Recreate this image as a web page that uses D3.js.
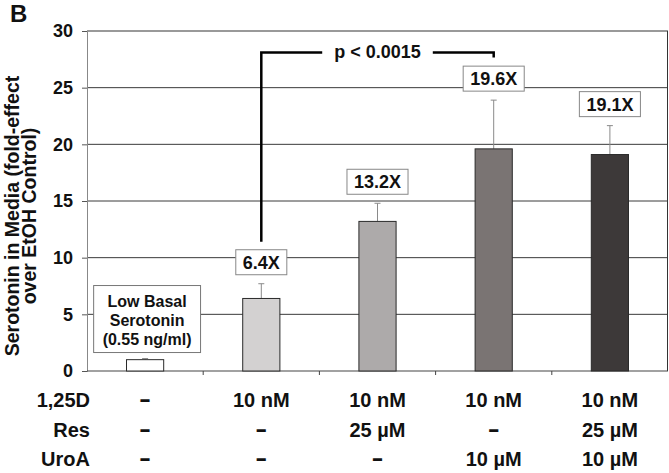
<!DOCTYPE html>
<html>
<head>
<meta charset="utf-8">
<script src="https://cdn.jsdelivr.net/npm/d3@7"></script>
<style>
  html, body { margin: 0; padding: 0; background: #fff; }
  svg text { font-family: "Liberation Sans", Arial, Helvetica, sans-serif; font-weight: bold; fill: #111; }
</style>
</head>
<body>
<svg id="chart" width="669" height="473"></svg>
<script>
// ---- data ----
const categories = ["Control", "1,25D", "1,25D+Res", "1,25D+UroA", "1,25D+Res+UroA"];
const values = [1.0, 6.4, 13.2, 19.6, 19.1];
const errUpper = [1.1, 7.7, 14.8, 23.9, 21.65];
const foldLabels = ["", "6.4X", "13.2X", "19.6X", "19.1X"];
const barColors = ["#ffffff", "#d3d1d1", "#adaaaa", "#7a7473", "#3d3939"];
const yTicks = [0, 5, 10, 15, 20, 25, 30];
const rowLabels = ["1,25D", "Res", "UroA"];
const row125D = ["-", "10 nM", "10 nM", "10 nM", "10 nM"];
const rowRes = ["-", "-", "25 \u00B5M", "-", "25 \u00B5M"];
const rowUroA = ["-", "-", "-", "10 \u00B5M", "10 \u00B5M"];
const basalLines = ["Low Basal", "Serotonin", "(0.55 ng/ml)"];
const pLabel = "p < 0.0015";
const yTitle = ["Serotonin in Media (fold-effect", "over  EtOH Control)"];

(function () {
// ---- layout ----
const plotL = 87, plotR = 668, plotT = 31, plotB = 371;
const svg = d3.select("#chart");

const x = d3.scaleBand().domain(categories).range([plotL, plotR]).padding(0);
const y = d3.scaleLinear().domain([0, 30]).range([plotB, plotT]);
const barW = x.bandwidth() * 0.32;
const cx = c => x(c) + x.bandwidth() / 2;

// gridlines
svg.append("g").selectAll("line").data(yTicks.filter(t => t > 0 && t < 30)).join("line")
  .attr("x1", plotL).attr("x2", plotR)
  .attr("y1", d => y(d)).attr("y2", d => y(d))
  .attr("stroke", "#3a3a3a").attr("stroke-width", 1);

// frame top / right
svg.append("line").attr("x1", plotL).attr("x2", plotR).attr("y1", y(30)).attr("y2", y(30))
  .attr("stroke", "#777").attr("stroke-width", 1.6);
svg.append("line").attr("x1", plotR - 0.5).attr("x2", plotR - 0.5).attr("y1", y(30)).attr("y2", y(0))
  .attr("stroke", "#333").attr("stroke-width", 1);

// y axis
const yAxis = d3.axisLeft(y).tickValues(yTicks).tickSize(5).tickPadding(9);
const gy = svg.append("g").attr("transform", `translate(${plotL},0)`).call(yAxis);
gy.select(".domain").attr("stroke", "#888");
gy.selectAll(".tick line").attr("stroke", "#555");
gy.selectAll(".tick text").style("font-size", "18px").attr("fill", "#111")
  .style("font-family", '"Liberation Sans", Arial, sans-serif').style("font-weight", "bold");

// x axis baseline with ticks between categories
const gx = svg.append("g");
gx.append("line").attr("x1", plotL).attr("x2", plotR).attr("y1", plotB).attr("y2", plotB)
  .attr("stroke", "#444").attr("stroke-width", 1.2);
gx.selectAll("line.sep").data(categories.slice(1)).join("line").attr("class", "sep")
  .attr("x1", d => x(d)).attr("x2", d => x(d))
  .attr("y1", plotB).attr("y2", plotB + 4)
  .attr("stroke", "#444");

// error bars
const eb = svg.append("g").attr("stroke", "#8a8a8a").attr("stroke-width", 1);
categories.forEach((c, i) => {
  eb.append("line").attr("x1", cx(c)).attr("x2", cx(c)).attr("y1", y(values[i])).attr("y2", y(errUpper[i]));
  eb.append("line").attr("x1", cx(c) - 3).attr("x2", cx(c) + 3).attr("y1", y(errUpper[i])).attr("y2", y(errUpper[i]));
});

// bars
svg.append("g").selectAll("rect").data(categories).join("rect")
  .attr("x", d => cx(d) - barW / 2)
  .attr("width", barW)
  .attr("y", (d, i) => y(values[i]))
  .attr("height", (d, i) => y(0) - y(values[i]))
  .attr("fill", (d, i) => barColors[i])
  .attr("stroke", "#2a2a2a").attr("stroke-width", 1);

// fold labels with boxes
categories.forEach((c, i) => {
  if (!foldLabels[i]) return;
  const g = svg.append("g");
  const boxBottom = y(errUpper[i]) - 9;
  const t = g.append("text").attr("x", cx(c)).attr("y", boxBottom - 6)
    .attr("text-anchor", "middle").style("font-size", "18px").text(foldLabels[i]);
  const tw = t.node().getComputedTextLength();
  g.insert("rect", "text").attr("x", cx(c) - tw / 2 - 7).attr("width", tw + 14)
    .attr("y", boxBottom - 25).attr("height", 25)
    .attr("fill", "#fff").attr("stroke", "#888").attr("stroke-width", 1);
});

// Low basal annotation box
{
  const c = categories[0];
  const g = svg.append("g");
  const boxBottom = y(errUpper[0]) - 6;
  const boxH = 67;
  const texts = basalLines.map((s, k) => g.append("text")
    .attr("x", cx(c) + 2).attr("y", boxBottom - boxH + 21 + k * 19.2)
    .attr("text-anchor", "middle").style("font-size", "16px").text(s));
  const tw = d3.max(texts, t => t.node().getComputedTextLength());
  g.insert("rect", "text").attr("x", cx(c) + 2 - tw / 2 - 9).attr("width", tw + 18)
    .attr("y", boxBottom - boxH).attr("height", boxH)
    .attr("fill", "#fff").attr("stroke", "#777").attr("stroke-width", 1);
}

// significance bracket
{
  const xa = cx(categories[1]), xb = cx(categories[3]), xm = cx(categories[2]);
  const yb = y(28.1);
  const leftLegBottom = y(errUpper[1]) - 9 - 25 - 8;
  const t = svg.append("text").attr("x", xm).attr("y", yb + 5.5)
    .attr("text-anchor", "middle").style("font-size", "18px").text(pLabel);
  const tw = t.node().getComputedTextLength();
  const gap = tw / 2 + 12;
  svg.append("path")
    .attr("d", `M${xa},${leftLegBottom}V${yb}H${xm - gap}`)
    .attr("fill", "none").attr("stroke", "#000").attr("stroke-width", 2.5);
  svg.append("path")
    .attr("d", `M${xm + gap},${yb}H${xb}V${yb + 5}`)
    .attr("fill", "none").attr("stroke", "#000").attr("stroke-width", 2.5);
}

// y title
svg.append("text").attr("transform", "translate(18.5,216) rotate(-90)")
  .attr("text-anchor", "middle").style("font-size", "19.5px").text(yTitle[0]);
svg.append("text").attr("transform", "translate(35.5,216) rotate(-90)")
  .attr("text-anchor", "middle").style("font-size", "19.5px").text(yTitle[1]);

// panel letter
svg.append("text").attr("x", 10).attr("y", 22).style("font-size", "24px").text("B");

// treatment table
const rows = [row125D, rowRes, rowUroA];
const rowY = [407, 437, 466];
rows.forEach((row, r) => {
  svg.append("text").attr("x", 90).attr("y", rowY[r]).attr("text-anchor", "end")
    .style("font-size", "20px").text(rowLabels[r]);
  row.forEach((v, i) => {
    const t = svg.append("text").attr("x", cx(categories[i])).attr("y", rowY[r])
      .attr("text-anchor", "middle").text(v);
    if (v === "-") {
      t.style("font-size", "24px").attr("textLength", 12).attr("lengthAdjust", "spacingAndGlyphs");
    } else {
      t.style("font-size", "20px");
    }
  });
});
})();
</script>
</body>
</html>
